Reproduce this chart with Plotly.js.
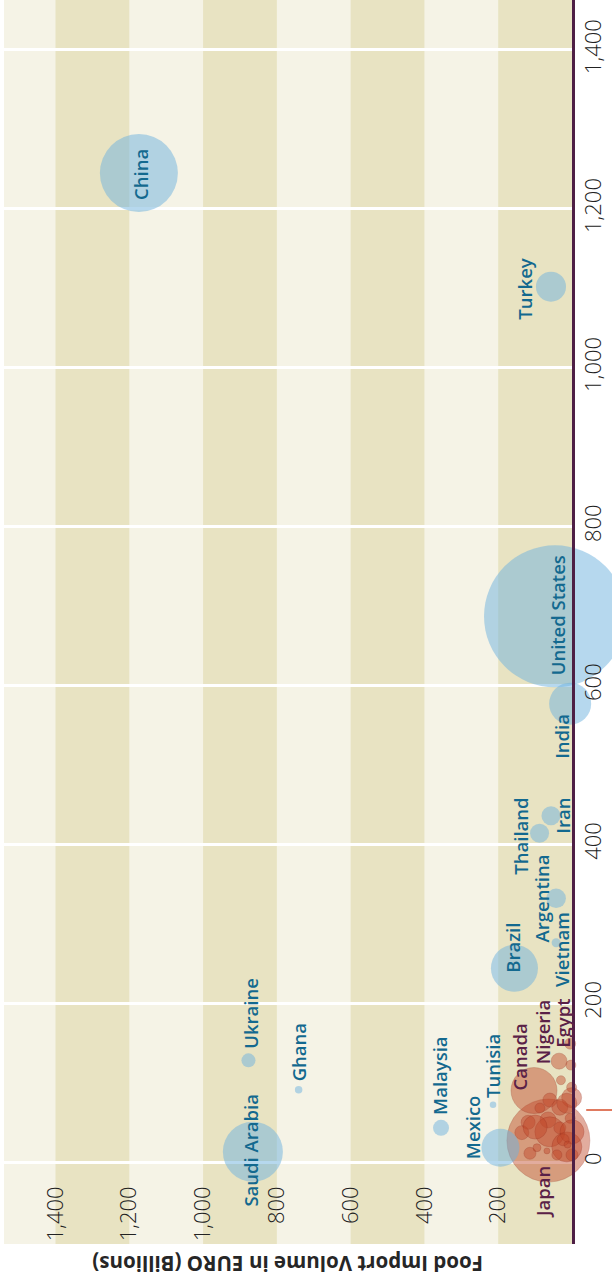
<!DOCTYPE html>
<html><head><meta charset="utf-8">
<script src="https://cdn.plot.ly/plotly-3.0.1.min.js"></script>
<style>html,body{margin:0;padding:0;background:#fff;}#chart{width:612px;height:1279px;}</style>
</head><body><div id="chart"></div>
<script>
// ---- data (horizontal = food import volume, vertical = second measure, bubble = size measure)
const blueCountries = ["China","Turkey","United States","India","Iran","Thailand","Argentina","Vietnam","Brazil","Mexico","Saudi Arabia","Ukraine","Ghana","Malaysia","Tunisia"];
const blueVolume   = [1174, 57, 46, 5, 57, 88, 43, 43, 156, 194, 865, 877, 741, 355, 214];
const blueMeasure  = [1245, 1102, 687, 577, 436, 414, 332, 276, 244, 18, 13, 128, 91, 43, 72];
const blueBubble   = [78, 30, 142, 42, 19, 19, 19.5, 9, 47, 38, 60, 14, 7.5, 16, 6.5];

const redCountries = ["Japan","Canada","Egypt","Nigeria","","","","","","","","","","","","","","","","","","","","","","","",""];
const redVolume    = [64, 103, 5, 35, 3, 30, 1, 1, 60, 119, 65, 33, 60, 14, 114, 136, 95, 68, 5, 33, 0, 24, 0, 41, 14, 87, 100, 12];
const redMeasure   = [27, 90, 149, 127, 122, 103, 94, 81, 78, 50, 53, 69, 38, 19, 11, 37, 18, 14, 55, 43, 38, 28, 9, 9, 74, 68, 44, 22];
const redBubble    = [83, 46, 11, 16, 10, 9, 10, 20, 14, 14, 16, 16, 30, 30, 12, 14, 8, 6, 10, 12, 24, 12, 12, 10, 20, 10, 24, 7];

const axisTicks = [0, 200, 400, 600, 800, 1000, 1200, 1400];
const refLineValue = 65.5;
const xTitle = "Food Import Volume in EURO (Billions)";

// ---- label placement (pixel offsets from bubble centre: [right, down])
const labelOffset = {
  "China":[1,1], "Turkey":[-26,2], "United States":[2,-1], "India":[-8,33], "Iran":[12,0],
  "Thailand":[-19,3], "Argentina":[-15,0], "Vietnam":[6,7], "Brazil":[-2,-21], "Mexico":[-28,-21],
  "Saudi Arabia":[-2,-2], "Ukraine":[2,-47], "Ghana":[0,-37], "Malaysia":[-1,-52], "Tunisia":[0,-39],
  "Japan":[-6,51], "Canada":[-14,-33], "Nigeria":[-17,-29], "Egypt":[-7,-20]
};

const BLUE_TXT = '#13698f', PURPLE_TXT = '#5a2147';
const FONT = '"Open Sans", "DejaVu Sans", sans-serif';

const traces = [
  {type:'scatter', mode:'markers', x:redVolume, y:redMeasure, text:redCountries, cliponaxis:false, hoverinfo:'text',
   marker:{size:redBubble, sizemode:'diameter', color:'rgba(192,70,40,0.64)', line:{color:'rgba(145,40,25,0.35)', width:1}}},
  {type:'scatter', mode:'markers', x:blueVolume, y:blueMeasure, text:blueCountries, cliponaxis:false, hoverinfo:'text',
   marker:{size:blueBubble, sizemode:'diameter', color:'rgba(110,178,222,0.72)', line:{width:0}}}
];

const annotations = [];
function addLabels(names, xs, ys, color){
  names.forEach((n,i)=>{
    if(!n) return;
    const off = labelOffset[n] || [0,0];
    annotations.push({x:xs[i], y:ys[i], xref:'x', yref:'y', text:n, showarrow:false, textangle:-90,
      xanchor:'center', yanchor:'middle', xshift:off[0], yshift:-off[1],
      font:{family:FONT, size:18.5, color:color, weight:600}});
  });
}
addLabels(blueCountries, blueVolume, blueMeasure, BLUE_TXT);
addLabels(redCountries, redVolume, redMeasure, PURPLE_TXT);
annotations.push({xref:'paper', yref:'paper', x:0.5, y:-0.0161, text:xTitle, showarrow:false, textangle:180,
  xanchor:'center', yanchor:'middle', font:{family:FONT, size:20.5, color:'#262626', weight:700}});

// alternating vertical bands every 200 units
const shapes = [];
for(let i=0;i<axisTicks.length-1;i+=2){
  shapes.push({type:'rect', layer:'below', xref:'x', yref:'paper', x0:axisTicks[i], x1:axisTicks[i+1], y0:0, y1:1,
    fillcolor:'#e8e3c2', line:{width:0}});
}
shapes.push({type:'line', xref:'paper', yref:'y', x0:1.025, x1:1.08, y0:refLineValue, y1:refLineValue,
  line:{color:'#e07a60', width:2}});

const layout = {
  width:612, height:1279,
  margin:{l:4, r:40, t:0, b:35},
  paper_bgcolor:'#ffffff', plot_bgcolor:'#f5f3e6',
  showlegend:false,
  xaxis:{range:[1539.6, 0], tickvals:axisTicks.slice(1), tickformat:',d', tickangle:-90, showgrid:false, zeroline:false,
    showline:false, ticks:'', anchor:'free', position:0.0507,
    tickfont:{family:FONT, size:22, color:'#222222', weight:300}},
  yaxis:{range:[-103.2, 1462.9], side:'right', tickvals:axisTicks, tickformat:',d', tickangle:-90,
    showgrid:true, gridcolor:'#ffffff', gridwidth:3, zeroline:false, showline:true, linecolor:'#4e1f45', linewidth:3,
    ticks:'', tickfont:{family:FONT, size:22, color:'#222222', weight:300}},
  shapes:shapes,
  annotations:annotations
};
Plotly.newPlot('chart', traces, layout, {displayModeBar:false, responsive:false});
</script>
</body></html>
